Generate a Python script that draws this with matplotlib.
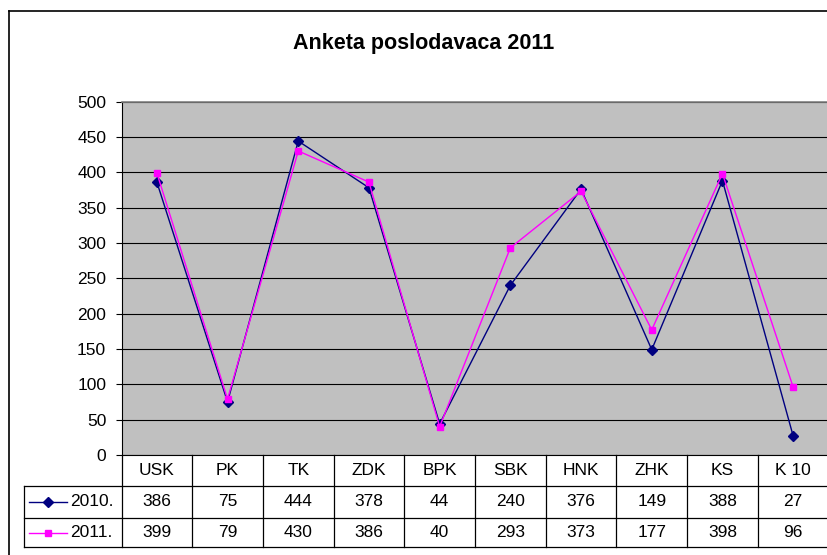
import matplotlib.pyplot as plt
from matplotlib.lines import Line2D
from matplotlib.transforms import blended_transform_factory

categories = ['USK', 'PK', 'TK', 'ZDK', 'BPK', 'SBK', 'HNK', 'ZHK', 'KS', 'K 10']
values_2010 = [386, 75, 444, 378, 44, 240, 376, 149, 388, 27]
values_2011 = [399, 79, 430, 386, 40, 293, 373, 177, 398, 96]
series_labels = ['2010.', '2011.']
yticks = list(range(0, 501, 50))
title = 'Anketa poslodavaca 2011'

plt.rcParams['font.family'] = ['Liberation Sans', 'DejaVu Sans']
fs = 12.5

W, H = 828, 555
fig = plt.figure(figsize=(W / 100, H / 100), dpi=100)
fig.patch.set_facecolor('white')


def fx(x):
    return x / W


def fy(y):
    return 1 - y / H


# plot area (pixel layout)
ax = fig.add_axes([fx(121.5), fy(455), fx(707), 353.5 / H])
ax.set_facecolor('#c0c0c0')
x = list(range(len(categories)))
series = [
    (values_2010, '#000080', 'D', 5.5),
    (values_2011, '#ff00ff', 's', 5.0),
]
for vals, col, mk, ms in series:
    ax.plot(x, vals, color=col, lw=1.0, marker=mk, markersize=ms,
            markerfacecolor=col, markeredgecolor=col, zorder=3)

ax.set_xlim(-0.5, len(categories) - 0.5)
ax.set_ylim(0, 500)
ax.set_yticks(yticks)
ax.set_xticks([])
ax.yaxis.grid(True, color='black', lw=0.8)
ax.set_axisbelow(True)
ax.tick_params(axis='y', length=4, width=0.8, pad=7, labelsize=fs, color='black')
ax.spines['top'].set_color('#808080')
ax.spines['top'].set_linewidth(1.2)
ax.spines['right'].set_visible(False)
ax.spines['left'].set_color('black')
ax.spines['bottom'].set_color('black')

fig.text(fx(424), fy(44), title, ha='center', va='center',
         fontsize=15.5, fontweight='bold')

# outer chart border (left and top visible, rest cropped)
fig.add_artist(Line2D([fx(9), fx(9)], [fy(11), 0], transform=fig.transFigure,
                      color='black', lw=1.2))
fig.add_artist(Line2D([fx(9), 1], [fy(11), fy(11)], transform=fig.transFigure,
                      color='black', lw=1.2))

# data table below the axis
tr = blended_transform_factory(ax.transData, fig.transFigure)
row_edges = [455, 486, 518, 547]
n = len(categories)
for i in range(n + 1):
    fig.add_artist(Line2D([i - 0.5, i - 0.5], [fy(row_edges[0]), fy(row_edges[-1])],
                          transform=tr, color='black', lw=0.9))
for y in row_edges[1:]:
    fig.add_artist(Line2D([fx(24), 1], [fy(y), fy(y)], transform=fig.transFigure,
                          color='black', lw=0.9))
fig.add_artist(Line2D([fx(24), fx(24)], [fy(486), fy(547)], transform=fig.transFigure,
                      color='black', lw=0.9))

for i, cat in enumerate(categories):
    fig.text(i, fy(470.5), cat, transform=tr, ha='center', va='center', fontsize=fs)

row_centers = [502, 532.5]
for (vals, col, mk, ms), lab, yc in zip(series, series_labels, row_centers):
    for i, v in enumerate(vals):
        fig.text(i, fy(yc), str(v), transform=tr, ha='center', va='center', fontsize=fs)
    fig.add_artist(Line2D([fx(29), fx(67)], [fy(yc), fy(yc)], transform=fig.transFigure,
                          color=col, lw=1.0))
    fig.add_artist(Line2D([fx(48)], [fy(yc)], transform=fig.transFigure,
                          color=col, marker=mk, markersize=ms, lw=0))
    fig.text(fx(70.5), fy(yc), lab, ha='left', va='center', fontsize=fs)

fig.savefig('out.png', dpi=100)
